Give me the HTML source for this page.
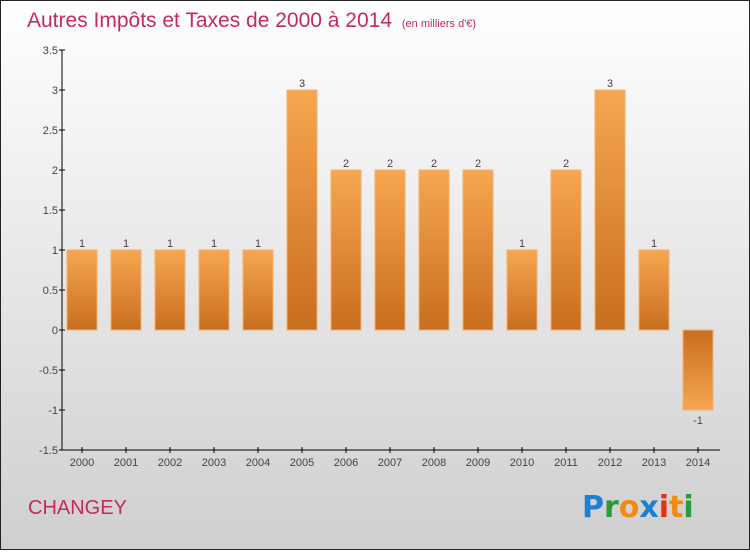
<!DOCTYPE html>
<html><head><meta charset="utf-8"><style>
html,body{margin:0;padding:0;}
body{width:750px;height:550px;overflow:hidden;font-family:"Liberation Sans",sans-serif;}
</style></head><body>
<svg id="chart" width="750" height="550" xmlns="http://www.w3.org/2000/svg">
<defs>
<linearGradient id="bg" x1="0" y1="0" x2="0" y2="1"><stop offset="0" stop-color="#ffffff"/><stop offset="1" stop-color="#cfcfcf"/></linearGradient>
<linearGradient id="barPos" x1="0" y1="0" x2="0" y2="1"><stop offset="0" stop-color="#f7a650"/><stop offset="1" stop-color="#c86e1e"/></linearGradient>
<linearGradient id="barNeg" x1="0" y1="0" x2="0" y2="1"><stop offset="0" stop-color="#c86e1e"/><stop offset="1" stop-color="#f7a650"/></linearGradient>
</defs>
<rect x="0.5" y="0.5" width="749" height="549" fill="url(#bg)" stroke="#222" stroke-width="1"/>
<text x="27" y="27" font-size="21" fill="#c42a5c">Autres Impôts et Taxes de 2000 à 2014 <tspan font-size="11" dx="4">(en milliers d'€)</tspan></text>
<g id="axes"></g>
<g id="bars"></g>
<text x="28" y="514" font-size="20" fill="#c42a5c">CHANGEY</text>
<g font-size="30" font-family="'DejaVu Sans',sans-serif" font-weight="bold">
<text x="582" y="517"><tspan fill="#1e7fd4">P</tspan><tspan fill="#2a9a3a">r</tspan><tspan fill="#f08a10">o</tspan><tspan fill="#1e7fd4">x</tspan><tspan fill="#e83010">i</tspan><tspan fill="#f08a10">t</tspan><tspan fill="#2a9a3a">i</tspan></text>
</g>
</svg>
<script>
const categories=["2000","2001","2002","2003","2004","2005","2006","2007","2008","2009","2010","2011","2012","2013","2014"];
const values=[1,1,1,1,1,3,2,2,2,2,1,2,3,1,-1];
const valueLabels=["1","1","1","1","1","3","2","2","2","2","1","2","3","1","-1"];
const yTicks=[3.5,3,2.5,2,1.5,1,0.5,0,-0.5,-1,-1.5];
const yTickLabels=["3.5","3","2.5","2","1.5","1","0.5","0","-0.5","-1","-1.5"];
const NS="http://www.w3.org/2000/svg";
const y0=330, pxPerUnit=80, x0=82, pitch=44, bw=30, axisX=62;
function yScale(v){return y0-v*pxPerUnit;}
function xScale(i){return x0+i*pitch;}
function mk(tag,attrs,parent){const e=document.createElementNS(NS,tag);for(const k in attrs)e.setAttribute(k,attrs[k]);parent.appendChild(e);return e;}
const axes=document.getElementById('axes'), bars=document.getElementById('bars');
let l=mk('line',{x1:axisX,y1:yScale(3.5),x2:axisX,y2:yScale(-1.5),stroke:'#000'},axes);


l=mk('line',{x1:axisX,y1:yScale(-1.5),x2:720,y2:yScale(-1.5),stroke:'#000'},axes);


yTicks.forEach((t,i)=>{
 const y=yScale(t);
 mk('line',{x1:axisX-3,y1:y,x2:axisX+3,y2:y,stroke:'#000'},axes);
 const tx=mk('text',{x:axisX-4,y:y+4,'text-anchor':'end','font-size':11,fill:'#444'},axes);
 tx.textContent=yTickLabels[i];
 
 
});
categories.forEach((c,i)=>{
 const x=xScale(i), v=values[i];
 mk('line',{x1:x,y1:yScale(-1.5)-3,x2:x,y2:yScale(-1.5)+3,stroke:'#000'},axes);
 const tx=mk('text',{x:x,y:yScale(-1.5)+16,'text-anchor':'middle','font-size':11,fill:'#444'},axes);
 tx.textContent=c;
 
 
 const top=Math.min(yScale(v),y0), h=Math.abs(yScale(v)-y0);
 const r=mk('rect',{x:x-bw/2,y:top,width:bw,height:h,fill:v>=0?'url(#barPos)':'url(#barNeg)',stroke:'#f5b070','stroke-width':1},bars);
 
 
 const lb=mk('text',{x:x,y:v>=0?yScale(v)-3:yScale(v)+14,'text-anchor':'middle','font-size':11,fill:'#444'},bars);
 lb.textContent=valueLabels[i];
 
 
});
</script>
</body></html>
